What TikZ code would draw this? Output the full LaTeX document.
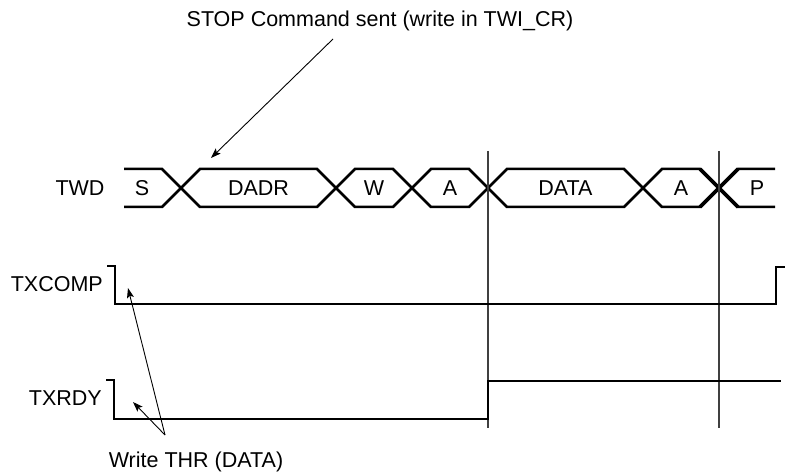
\documentclass[tikz,border=0pt]{standalone}
\usepackage{fontspec}
\setmainfont{Liberation Sans}
\usetikzlibrary{arrows.meta}
\begin{document}
\begin{tikzpicture}[x=1pt,y=-1pt,
    every node/.style={font=\fontsize{21.5}{25}\selectfont,inner sep=0pt},
    bus/.style={line width=2.5pt,line join=miter},
    sig/.style={line width=2.8pt,line join=miter},
    mark line/.style={line width=1.3pt,black!75},
    note/.style={line width=0.9pt,-{Stealth[length=10pt,width=7pt,inset=2pt]}}]
  \useasboundingbox (0,0) rectangle (785,476);
  % TWD bus
  \node[anchor=base] (twd) at (80,195.5) {TWD};
  \draw[bus] (124,169) -- (162,169) -- (181,188) -- (162,207) -- (124,207);
  \node[anchor=base] (bs) at (142,195.5) {S};
  \foreach \a/\b/\t/\n in {181/336/DADR/bdadr,336/412/W/bw,412/488/A/ba,488/643/DATA/bdata,643/719/A/back}{
    \draw[bus] (\a,188) -- (\a+19,169) -- (\b-19,169) -- (\b,188) -- (\b-19,207) -- (\a+19,207) -- cycle;
    \node[anchor=base] (\n) at ({(\a+\b)/2},195.5) {\t};}
  \draw[bus] (775,169) -- (738,169) -- (719,188) -- (738,207) -- (775,207);
  \draw[line width=3.8pt] (700,169) -- (738,207) (700,207) -- (738,169);
  \node[anchor=base] (bp) at (757,195.5) {P};
  % markers
  \draw[mark line] (488,151) -- (488,428);
  \draw[mark line] (719,151) -- (719,428);
  % flags
  \node[anchor=base east] (txcomp) at (103,291.5) {TXCOMP};
  \draw[sig] (107,266) -- (115,266) -- (115,304) -- (776,304) -- (776,267) -- (785,267);
  \node[anchor=base east] (txrdy) at (102,405.5) {TXRDY};
  \draw[sig] (106,380) -- (114,380) -- (114,419) -- (488,419) -- (488,381) -- (781,381);
  % notes
  \node[anchor=base] (stop) at (380,27) {STOP Command sent (write in TWI\_CR)};
  \coordinate (stopfrom) at (333,39);
  \coordinate (stopto) at (211,158);
  \draw[note] (stopfrom) -- (stopto);
  \node[anchor=base] (thr) at (196,467) {Write THR (DATA)};
  \coordinate (thrfrom) at (165,435);
  \coordinate (thrcomp) at (128,288);
  \coordinate (thrrdy) at (133,402);
  \draw[note] (thrfrom) -- (thrcomp);
  \draw[note] (thrfrom) -- (thrrdy);
\end{tikzpicture}
\end{document}
